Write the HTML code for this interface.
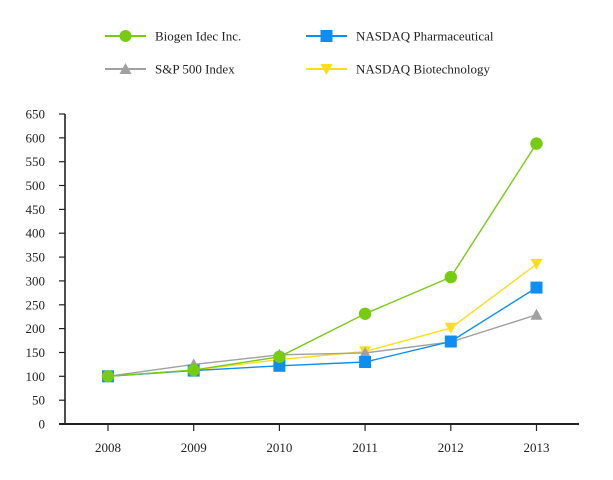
<!DOCTYPE html>
<html><head><meta charset="utf-8"><style>
html,body{margin:0;padding:0;background:#fff;}
svg{display:block;}
text{font-family:"Liberation Serif",serif;font-size:13px;fill:#222;}
</style></head><body>
<svg width="613" height="480" viewBox="0 0 613 480" xmlns="http://www.w3.org/2000/svg">
<!-- legend -->
<line x1="105" y1="36" x2="146" y2="36" stroke="#77cc11" stroke-width="2"/>
<circle cx="125.5" cy="36" r="6" fill="#77cc11"/>
<text x="155" y="40.5">Biogen Idec Inc.</text>
<line x1="306" y1="36" x2="347" y2="36" stroke="#0d8ef0" stroke-width="2"/>
<rect x="320.5" y="30" width="12" height="12" fill="#0d8ef0"/>
<text x="356" y="40.5">NASDAQ Pharmaceutical</text>
<line x1="105" y1="69" x2="146" y2="69" stroke="#a0a0a0" stroke-width="2"/>
<polygon points="125.5,63 131.5,74 119.5,74" fill="#a0a0a0"/>
<text x="155" y="73.5">S&amp;P 500 Index</text>
<line x1="306" y1="69" x2="347" y2="69" stroke="#ffdd1a" stroke-width="2"/>
<polygon points="320.5,64 332.5,64 326.5,75" fill="#ffdd1a"/>
<text x="356" y="73.5">NASDAQ Biotechnology</text>

<!-- axes -->
<g stroke="#222" stroke-width="1.2">
<line x1="59" y1="114" x2="65" y2="114"/>
<line x1="59" y1="137.85" x2="65" y2="137.85"/>
<line x1="59" y1="161.7" x2="65" y2="161.7"/>
<line x1="59" y1="185.5" x2="65" y2="185.5"/>
<line x1="59" y1="209.4" x2="65" y2="209.4"/>
<line x1="59" y1="233.2" x2="65" y2="233.2"/>
<line x1="59" y1="257.1" x2="65" y2="257.1"/>
<line x1="59" y1="280.9" x2="65" y2="280.9"/>
<line x1="59" y1="304.8" x2="65" y2="304.8"/>
<line x1="59" y1="328.6" x2="65" y2="328.6"/>
<line x1="59" y1="352.5" x2="65" y2="352.5"/>
<line x1="59" y1="376.3" x2="65" y2="376.3"/>
<line x1="59" y1="400.2" x2="65" y2="400.2"/>
<line x1="108" y1="424" x2="108" y2="431"/>
<line x1="193.7" y1="424" x2="193.7" y2="431"/>
<line x1="279.4" y1="424" x2="279.4" y2="431"/>
<line x1="365.1" y1="424" x2="365.1" y2="431"/>
<line x1="450.8" y1="424" x2="450.8" y2="431"/>
<line x1="536.5" y1="424" x2="536.5" y2="431"/>
</g>
<line x1="65" y1="114" x2="65" y2="425" stroke="#222" stroke-width="1.6"/>
<line x1="59" y1="424" x2="579" y2="424" stroke="#222" stroke-width="2"/>

<g text-anchor="end">
<text x="45" y="118.5">650</text>
<text x="45" y="142.3">600</text>
<text x="45" y="166.2">550</text>
<text x="45" y="190">500</text>
<text x="45" y="213.9">450</text>
<text x="45" y="237.7">400</text>
<text x="45" y="261.6">350</text>
<text x="45" y="285.4">300</text>
<text x="45" y="309.3">250</text>
<text x="45" y="333.1">200</text>
<text x="45" y="357">150</text>
<text x="45" y="380.8">100</text>
<text x="45" y="404.7">50</text>
<text x="45" y="428.5">0</text>
</g>
<g text-anchor="middle">
<text x="108" y="452">2008</text>
<text x="193.7" y="452">2009</text>
<text x="279.4" y="452">2010</text>
<text x="365.1" y="452">2011</text>
<text x="450.8" y="452">2012</text>
<text x="536.5" y="452">2013</text>
</g>

<!-- series: y = 424 - v*0.4769 -->
<!-- Biotech: 100,113,135,152,201,335 -->
<polyline fill="none" stroke="#ffdd1a" stroke-width="1.4" points="108,376.3 193.7,370.1 279.4,359.6 365.1,351.5 450.8,328.1 536.5,264.2"/>
<g fill="#ffdd1a">
<polygon points="102,371 114,371 108,382"/>
<polygon points="187.7,364.8 199.7,364.8 193.7,375.8"/>
<polygon points="273.4,354.3 285.4,354.3 279.4,365.3"/>
<polygon points="359.1,346.2 371.1,346.2 365.1,357.2"/>
<polygon points="444.8,322.8 456.8,322.8 450.8,333.8"/>
<polygon points="530.5,258.9 542.5,258.9 536.5,269.9"/>
</g>
<!-- S&P: 100,125,145,149,172,229 -->
<polyline fill="none" stroke="#a0a0a0" stroke-width="1.4" points="108,376.3 193.7,364.4 279.4,354.8 365.1,352.9 450.8,342 536.5,314.8"/>
<g fill="#a0a0a0">
<polygon points="108,370.3 114,381.3 102,381.3"/>
<polygon points="193.7,358.4 199.7,369.4 187.7,369.4"/>
<polygon points="279.4,348.8 285.4,359.8 273.4,359.8"/>
<polygon points="365.1,346.9 371.1,357.9 359.1,357.9"/>
<polygon points="450.8,336 456.8,347 444.8,347"/>
<polygon points="536.5,308.8 542.5,319.8 530.5,319.8"/>
</g>
<!-- Pharma: 100,112,122,130,173,286 -->
<polyline fill="none" stroke="#0d8ef0" stroke-width="1.4" points="108,376.3 193.7,370.6 279.4,365.8 365.1,362 450.8,341.5 536.5,287.6"/>
<g fill="#0d8ef0">
<rect x="102" y="370.3" width="12" height="12"/>
<rect x="187.7" y="364.6" width="12" height="12"/>
<rect x="273.4" y="359.8" width="12" height="12"/>
<rect x="359.1" y="356" width="12" height="12"/>
<rect x="444.8" y="335.5" width="12" height="12"/>
<rect x="530.5" y="281.6" width="12" height="12"/>
</g>
<!-- Biogen: 100,113,141,231,308,588 -->
<polyline fill="none" stroke="#77cc11" stroke-width="1.4" points="108,376.3 193.7,370.1 279.4,356.8 365.1,313.8 450.8,277.1 536.5,143.6"/>
<g fill="#77cc11">
<circle cx="108" cy="376.3" r="6.2"/>
<circle cx="193.7" cy="370.1" r="6.2"/>
<circle cx="279.4" cy="356.8" r="6.2"/>
<circle cx="365.1" cy="313.8" r="6.2"/>
<circle cx="450.8" cy="277.1" r="6.2"/>
<circle cx="536.5" cy="143.6" r="6.2"/>
</g>
</svg>
</body></html>
